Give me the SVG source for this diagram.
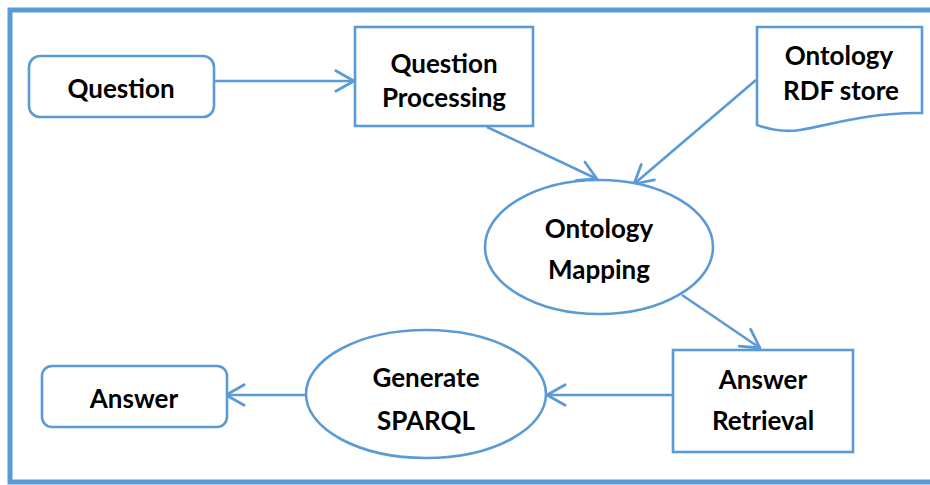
<svg xmlns="http://www.w3.org/2000/svg" width="930" height="485" viewBox="0 0 930 485">
<defs>
<marker id="arr" markerUnits="userSpaceOnUse" markerWidth="30" markerHeight="30" viewBox="-22 -14 26 28" refX="0" refY="0" orient="auto" overflow="visible">
<path d="M-17,-9.5 L0,0 L-17,9.5" fill="none" stroke="#5B9BD5" stroke-width="2.6" stroke-linecap="round" stroke-linejoin="round"/>
</marker>
<style>
.shape{fill:#FFFFFF;stroke:#5B9BD5;stroke-width:2.6}
.lbl{font-family:Lato,"Open Sans","Liberation Sans",sans-serif;font-weight:bold;font-size:26px;fill:#000000;text-anchor:middle}
.conn{fill:none;stroke:#5B9BD5;stroke-width:2.6;marker-end:url(#arr)}
</style>
</defs>
<rect x="0" y="0" width="930" height="485" fill="#FFFFFF"/>
<rect x="10" y="10" width="935" height="472" fill="none" stroke="#5B9BD5" stroke-width="5"/>
<g id="connectors">
<path class="conn" d="M214,81 H354"/>
<path class="conn" d="M487,127 L597,179"/>
<path class="conn" d="M756,80 L634,184"/>
<path class="conn" d="M682,295 L760,348"/>
<path class="conn" d="M673,395 H547"/>
<path class="conn" d="M306,395 H226"/>
</g>
<g id="question">
<rect class="shape" x="29" y="56" width="185" height="61" rx="11"/>
<text class="lbl" x="121" y="98">Question</text>
</g>
<g id="question-processing">
<rect class="shape" x="355" y="27" width="178" height="99"/>
<text class="lbl" x="444" y="73">Question</text>
<text class="lbl" x="444" y="107">Processing</text>
</g>
<g id="ontology-rdf-store">
<path class="shape" d="M757,27 H922 V113 C870,112 830,125 800,130 C780,133 765,128 757,125 Z"/>
<text class="lbl" x="839" y="65">Ontology</text>
<text class="lbl" x="841" y="100">RDF store</text>
</g>
<g id="ontology-mapping">
<ellipse class="shape" cx="599" cy="247" rx="114" ry="67"/>
<text class="lbl" x="599" y="238">Ontology</text>
<text class="lbl" x="599" y="279">Mapping</text>
</g>
<g id="answer-retrieval">
<rect class="shape" x="673" y="350" width="180" height="102"/>
<text class="lbl" x="763" y="389">Answer</text>
<text class="lbl" x="763" y="430">Retrieval</text>
</g>
<g id="generate-sparql">
<ellipse class="shape" cx="426" cy="394" rx="120" ry="64"/>
<text class="lbl" x="426" y="387">Generate</text>
<text class="lbl" x="426" y="430">SPARQL</text>
</g>
<g id="answer">
<rect class="shape" x="42" y="366" width="185" height="61" rx="10"/>
<text class="lbl" x="134" y="408">Answer</text>
</g>
</svg>
